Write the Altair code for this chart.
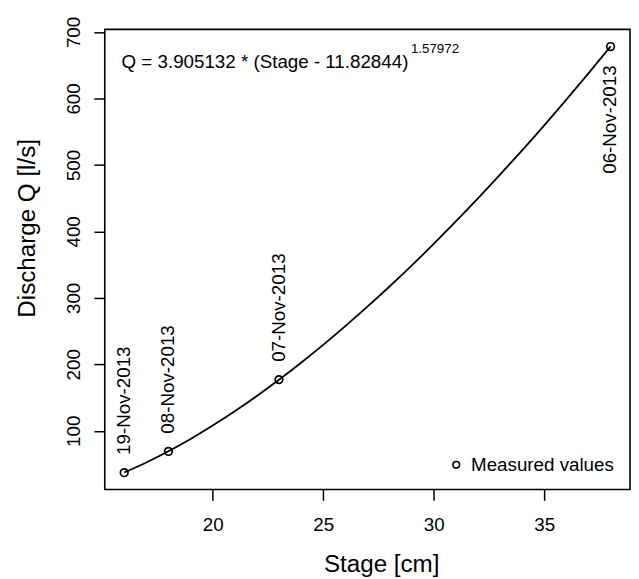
import altair as alt
import pandas as pd

# Measured points
stage = [16, 18, 23, 38]
discharge = [37, 69, 177, 678]
dates = ["19-Nov-2013", "08-Nov-2013", "07-Nov-2013", "06-Nov-2013"]

# Rating curve
curve_stage = [16, 17, 18, 19, 20, 21, 22, 23, 24, 25, 26, 27, 28, 29, 30,
               31, 32, 33, 34, 35, 36, 37, 38]
curve_q = [37.3, 52.4, 69.2, 87.7, 107.9, 129.4, 152.4, 176.7, 202.4, 229.3,
           257.4, 286.7, 317.1, 348.5, 381.2, 414.9, 449.6, 485.3, 522.0,
           559.6, 598.3, 637.8, 678.3]

x_ticks = [20, 25, 30, 35]
y_ticks = [100, 200, 300, 400, 500, 600, 700]

equation = "Q = 3.905132 * (Stage - 11.82844)"
exponent = "1.57972"
legend_label = "Measured values"

FONT = "Liberation Sans"
FS = 19
TFS = 24.5

pts = pd.DataFrame({"stage": stage, "q": discharge, "date": dates})
crv = pd.DataFrame({"stage": curve_stage, "q": curve_q})

xs = alt.Scale(domain=[15.12, 38.88], nice=False, zero=False)
ys = alt.Scale(domain=[11.7, 703.9], nice=False, zero=False)

x_axis = alt.Axis(values=x_ticks, title="Stage [cm]", grid=False, domain=False,
                  tickSize=11, tickWidth=1.5, tickColor="black",
                  labelFont=FONT, labelFontSize=FS, labelColor="black",
                  labelPadding=16, labelBaseline="top", labelFlush=False,
                  labelOverlap=False,
                  titleFont=FONT, titleFontSize=TFS, titleFontWeight="normal",
                  titleColor="black", titleX=280, titleY=83,
                  titleBaseline="alphabetic", titleAlign="center")
y_axis = alt.Axis(values=y_ticks, title="Discharge Q [l/s]", grid=False, domain=False,
                  tickSize=11, tickWidth=1.5, tickColor="black",
                  labelFont=FONT, labelFontSize=FS, labelColor="black",
                  labelAngle=270, labelAlign="center", labelBaseline="alphabetic",
                  labelPadding=15, labelFlush=False, labelOverlap=False,
                  titleFont=FONT, titleFontSize=TFS, titleFontWeight="normal",
                  titleColor="black", titleAngle=270, titleX=-71, titleY=201,
                  titleBaseline="alphabetic", titleAlign="center")

X = alt.X("stage:Q", scale=xs, axis=x_axis)
Y = alt.Y("q:Q", scale=ys, axis=y_axis)

curve = alt.Chart(crv).mark_line(color="black", strokeWidth=1.8,
                                 interpolate="monotone").encode(x=X, y=Y)

points = alt.Chart(pts).mark_point(shape="circle", filled=False, color="black",
                                   size=60, strokeWidth=1.7, opacity=1).encode(x=X, y=Y)

labels_up = alt.Chart(pts).transform_filter("datum.q < 600").mark_text(
    angle=270, align="left", baseline="middle", dx=18,
    font=FONT, fontSize=FS, color="black").encode(x=X, y=Y, text="date:N")

labels_down = alt.Chart(pts).transform_filter("datum.q >= 600").mark_text(
    angle=270, align="right", baseline="middle", dx=-19,
    font=FONT, fontSize=FS, color="black").encode(x=X, y=Y, text="date:N")

eq = alt.Chart(pts).transform_filter("datum.q >= 600").mark_text(
    align="left", baseline="alphabetic", font=FONT, fontSize=FS, color="black",
    text=equation).encode(x=alt.datum(15.88), y=alt.datum(646))

ex = alt.Chart(pts).transform_filter("datum.q >= 600").mark_text(
    align="left", baseline="alphabetic", font=FONT, fontSize=13.5, color="black",
    text=exponent).encode(x=alt.datum(28.97), y=alt.datum(668))

leg_sym = alt.Chart(pts).transform_filter("datum.q >= 600").mark_point(
    shape="circle", filled=False, color="black", size=45, strokeWidth=1.6,
    opacity=1).encode(x=alt.datum(31.02), y=alt.datum(48.8))

leg_txt = alt.Chart(pts).transform_filter("datum.q >= 600").mark_text(
    align="left", baseline="alphabetic", font=FONT, fontSize=FS, color="black",
    text=legend_label).encode(x=alt.datum(31.69), y=alt.datum(39.9))

chart = alt.layer(curve, points, labels_up, labels_down, eq, ex, leg_sym, leg_txt).properties(
    width=532, height=466,
    padding={"left": 98, "top": 18, "right": 1, "bottom": 87},
    autosize="none",
).configure_view(stroke="black", strokeWidth=1.6)

chart.save("out.html", embed_options={"renderer": "svg", "actions": False})
